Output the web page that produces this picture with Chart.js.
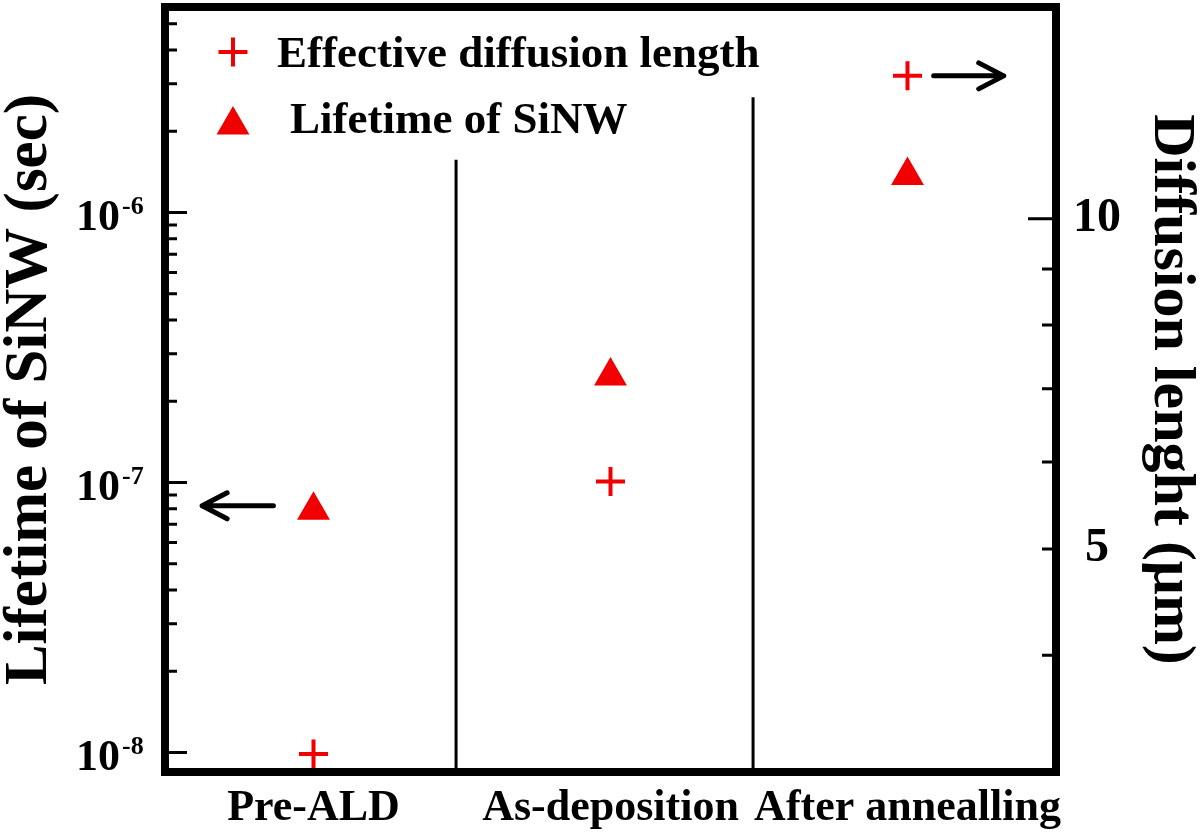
<!DOCTYPE html>
<html>
<head>
<meta charset="utf-8">
<script src="https://cdn.jsdelivr.net/npm/chart.js@4.4.1/dist/chart.umd.min.js"></script>
<style>
  html, body { margin: 0; padding: 0; background: #fff; }
  #wrap { width: 1200px; height: 836px; position: relative; }
</style>
</head>
<body>
<div id="wrap"><canvas id="chart"></canvas></div>
<script>
// data
const categories = ['Pre-ALD', 'As-deposition', 'After annealling'];
const lifetime = [7.9e-8, 2.48e-7, 1.37e-6];   // sec, left axis (triangles)
const diffLength = [3.25, 5.76, 13.5];         // um, right axis (crosses)

// axes
const lifeMin = 8.47e-9, lifeMax = 5.77e-6;
const lenMin = 3.13, lenMax = 15.6;
const lifetimeTicks = [
  1e-8, 2e-8, 3e-8, 4e-8, 5e-8, 6e-8, 7e-8, 8e-8, 9e-8,
  1e-7, 2e-7, 3e-7, 4e-7, 5e-7, 6e-7, 7e-7, 8e-7, 9e-7,
  1e-6, 2e-6, 3e-6, 4e-6, 5e-6
];
const lifetimeLabels = [[1e-8, '-8'], [1e-7, '-7'], [1e-6, '-6']];
const lengthTicks = [4, 5, 6, 7, 8, 9, 10];
const lengthLabels = [5, 10];

// vertical separators between the groups
const separatorX = [0.48, 1.48];
const separatorTop = [1.57e-6, 2.67e-6];

const RED = 'rgb(240,0,0)';
const FONT = 'Liberation Serif';

const isDecade = v => Math.abs(Math.log10(v) - Math.round(Math.log10(v))) < 1e-9;

function drawArrow(ctx, x0, x1, y) {
  const dir = Math.sign(x1 - x0);
  ctx.beginPath();
  ctx.moveTo(x0, y);
  ctx.lineTo(x1, y);
  ctx.moveTo(x1 - dir * 25, y - 13);
  ctx.lineTo(x1, y);
  ctx.lineTo(x1 - dir * 25, y + 13);
  ctx.stroke();
}

const extras = {
  id: 'extras',
  afterDraw(chart) {
    const ctx = chart.ctx;
    const a = chart.chartArea;
    const x = chart.scales.x, yL = chart.scales.yL, yR = chart.scales.yR;
    ctx.save();

    // frame
    ctx.strokeStyle = '#000';
    ctx.lineWidth = 8;
    ctx.strokeRect(a.left, a.top, a.right - a.left, a.bottom - a.top);

    // inward ticks
    ctx.lineWidth = 3;
    ctx.beginPath();
    yL.ticks.forEach(t => {
      const py = yL.getPixelForValue(t.value);
      const len = isDecade(t.value) ? 22 : 12;
      ctx.moveTo(a.left, py); ctx.lineTo(a.left + len, py);
    });
    yR.ticks.forEach(t => {
      const py = yR.getPixelForValue(t.value);
      const len = isDecade(t.value) ? 28 : 14;
      ctx.moveTo(a.right, py); ctx.lineTo(a.right - len, py);
    });
    ctx.stroke();

    // left tick labels with superscript
    ctx.fillStyle = '#000';
    lifetimeLabels.forEach(([v, exp]) => {
      const py = yL.getPixelForValue(v);
      ctx.font = `bold 44px "${FONT}"`;
      ctx.textAlign = 'right';
      ctx.textBaseline = 'alphabetic';
      ctx.fillText('10', a.left - 45, py + 17);
      ctx.font = `bold 26px "${FONT}"`;
      ctx.textAlign = 'left';
      ctx.fillText(exp, a.left - 43, py + 1);
    });

    // arrows pointing to each axis
    ctx.lineWidth = 5;
    ctx.lineCap = 'round';
    ctx.lineJoin = 'round';
    drawArrow(ctx, x.getPixelForValue(-0.135), x.getPixelForValue(-0.375), yL.getPixelForValue(8.2e-8));
    drawArrow(ctx, x.getPixelForValue(2.088), x.getPixelForValue(2.324), yR.getPixelForValue(diffLength[2]));

    // legend
    ctx.strokeStyle = RED;
    ctx.fillStyle = RED;
    ctx.lineCap = 'butt';
    ctx.lineJoin = 'miter';
    ctx.lineWidth = 4;
    Chart.helpers.drawPoint(ctx, {pointStyle: 'cross', radius: 14.5, rotation: 0, borderWidth: 4}, 233, 52);
    ctx.lineWidth = 2;
    Chart.helpers.drawPoint(ctx, {pointStyle: 'triangle', radius: 17, rotation: 0, borderWidth: 2}, 233, 125);
    ctx.fillStyle = '#000';
    ctx.font = `bold 45px "${FONT}"`;
    ctx.textAlign = 'left';
    ctx.textBaseline = 'alphabetic';
    ctx.fillText('Effective diffusion length', 277, 67);
    ctx.fillText('Lifetime of SiNW', 290, 133);

    ctx.restore();
  }
};

const separatorSets = separatorX.map((sx, i) => ({
  data: [{x: sx, y: lifeMin}, {x: sx, y: separatorTop[i]}],
  yAxisID: 'yL',
  showLine: true,
  borderColor: '#000',
  borderWidth: 3,
  pointRadius: 0
}));

const noPad = s => { s.paddingTop = 0; s.paddingBottom = 0; s.paddingLeft = 0; s.paddingRight = 0; };

new Chart(document.getElementById('chart'), {
  type: 'scatter',
  data: {
    datasets: [
      ...separatorSets,
      {
        label: 'Lifetime of SiNW',
        data: lifetime.map((v, i) => ({x: i, y: v})),
        yAxisID: 'yL',
        pointStyle: 'triangle',
        pointRadius: 17,
        borderWidth: 2,
        backgroundColor: RED,
        borderColor: RED
      },
      {
        label: 'Effective diffusion length',
        data: diffLength.map((v, i) => ({x: i, y: v})),
        yAxisID: 'yR',
        pointStyle: 'cross',
        pointRadius: 14.5,
        borderWidth: 4,
        backgroundColor: RED,
        borderColor: RED
      }
    ]
  },
  options: {
    responsive: true,
    maintainAspectRatio: false,
    animation: false,
    events: [],
    layout: { autoPadding: false, padding: { top: 7, left: 0, right: 0, bottom: 0 } },
    plugins: { legend: { display: false }, tooltip: { enabled: false } },
    scales: {
      x: {
        type: 'linear',
        position: 'bottom',
        min: -0.5,
        max: 2.5,
        afterBuildTicks: s => { s.ticks = categories.map((c, i) => ({value: i})); },
        afterFit: s => { s.height = 64; noPad(s); },
        grid: { display: false, drawTicks: false },
        border: { display: false },
        ticks: {
          autoSkip: false,
          maxRotation: 0,
          padding: 10,
          color: '#000',
          font: { family: FONT, size: 44, weight: 'bold' },
          callback: v => categories[v] ?? ''
        }
      },
      yL: {
        type: 'logarithmic',
        position: 'left',
        min: lifeMin,
        max: lifeMax,
        afterBuildTicks: s => { s.ticks = lifetimeTicks.map(v => ({value: v})); },
        afterFit: s => { s.width = 165; noPad(s); },
        grid: { display: false, drawTicks: false },
        border: { display: false },
        ticks: { display: false },
        title: {
          display: true,
          text: 'Lifetime of SiNW (sec)',
          color: '#000',
          padding: 0,
          font: { family: FONT, size: 61, weight: 'bold', lineHeight: 1 }
        }
      },
      yR: {
        type: 'logarithmic',
        position: 'right',
        min: lenMin,
        max: lenMax,
        afterBuildTicks: s => { s.ticks = lengthTicks.map(v => ({value: v})); },
        afterFit: s => { s.width = 144; noPad(s); },
        grid: { display: false, drawTicks: false },
        border: { display: false },
        ticks: {
          autoSkip: false,
          padding: 17,
          crossAlign: 'center',
          color: '#000',
          font: { family: FONT, size: 48, weight: 'bold' },
          callback: v => lengthLabels.includes(v) ? String(v) : ''
        },
        title: {
          display: true,
          text: 'Diffusion lenght (μm)',
          color: '#000',
          padding: 0,
          font: { family: FONT, size: 60, weight: 'bold', lineHeight: 1 }
        }
      }
    }
  },
  plugins: [extras]
});
</script>
</body>
</html>
